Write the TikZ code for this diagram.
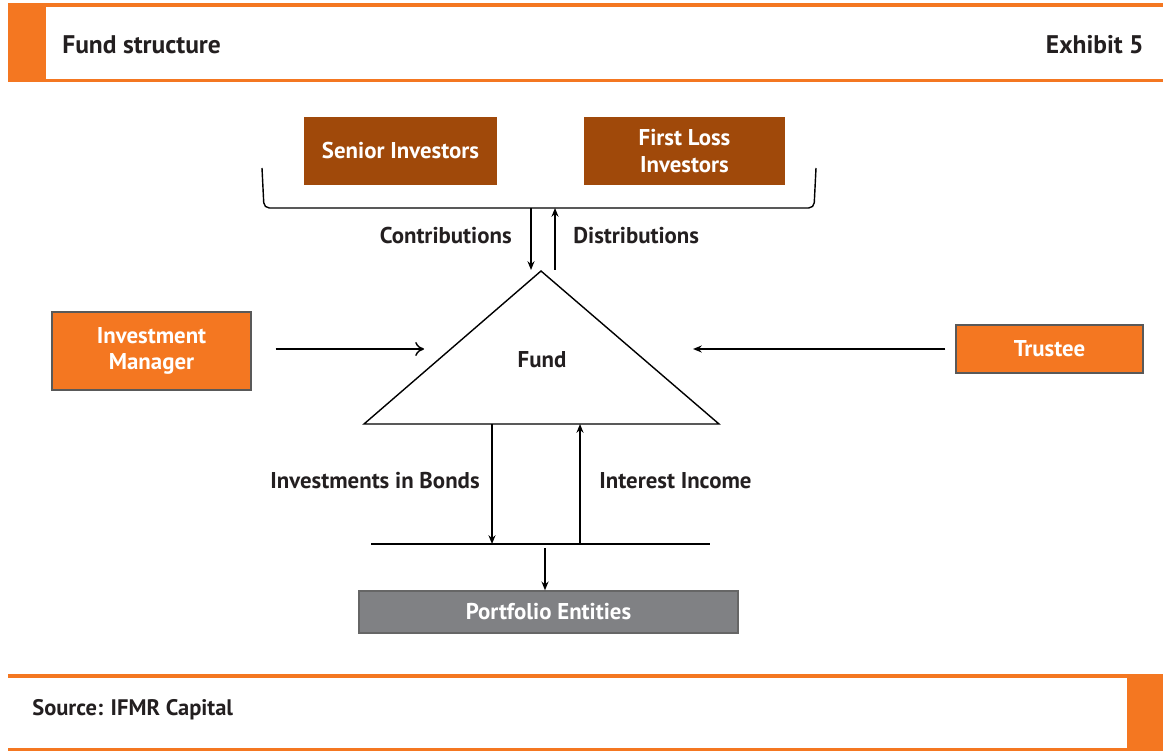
\documentclass[tikz,border=0pt]{standalone}
\usepackage{fontspec}
\setmainfont{PT Sans}
\usetikzlibrary{arrows.meta,positioning}
\definecolor{exorange}{HTML}{F47721}
\definecolor{exbrown}{HTML}{A0490A}
\definecolor{exgrey}{HTML}{808184}
\definecolor{extext}{HTML}{231F20}

\tikzset{
  boxfont/.style={font=\bfseries\fontsize{13}{15}\selectfont},
  brownbox/.style={boxfont, fill=exbrown, text=white, align=center, inner sep=0pt},
  orangebox/.style={boxfont, fill=exorange, draw=black!65, thick, text=white, align=center, inner sep=0pt},
  greybox/.style={boxfont, fill=exgrey, draw=black!60, thick, text=white, inner sep=0pt},
  lbl/.style={boxfont, text=extext, inner sep=0pt},
  flow/.style={thick, -{Stealth[length=5pt,width=4pt]}},
  rule/.style={exorange, line width=1.8pt}
}

\begin{document}
\begin{tikzpicture}[x=0.02cm, y=-0.02cm]
\useasboundingbox (0,0) rectangle (1163,753);

% header band
\draw [rule] (8,5) -- (1163,5);
\draw [rule] (8,80.5) -- (1163,80.5);
\fill [exorange] (8,4) rectangle (46,81.5);
\node [lbl, anchor=west, font=\bfseries\fontsize{14.5}{17}\selectfont] (title) at (62,45) {Fund structure};
\node [lbl, anchor=east, font=\bfseries\fontsize{14.5}{17}\selectfont] (exhibit) at (1144,45) {Exhibit 5};

% investors
\node [brownbox, minimum width=3.86cm, minimum height=1.36cm] (senior) at (400.5,151) {Senior Investors};
\node [brownbox, minimum width=4.02cm, minimum height=1.36cm] (firstloss) at (684.5,151) {First Loss\\Investors};
\draw [thick, rounded corners=3pt] (262,168) -- (264,208) -- (814,208) -- (816,168);
\coordinate (contribtop) at (531,208);
\coordinate (distribtop) at (555,208);

% fund
\coordinate (apex) at (541,271);
\coordinate (baseL) at (364,424);
\coordinate (baseR) at (719,424);
\draw [thick] (apex) -- (baseL) -- (baseR) -- cycle;
\node [lbl] (fund) at (542,360) {Fund};
\coordinate (contribend) at (531,270);
\coordinate (distribend) at (555,270);
\draw [flow] (contribtop) -- (contribend);
\draw [flow] (distribend) -- (distribtop);
\node [lbl, anchor=east] (contrib) at (512,236) {Contributions};
\node [lbl, anchor=west] (distrib) at (573,236) {Distributions};

% manager and trustee
\node [orangebox, minimum width=3.98cm, minimum height=1.56cm] (manager) at (151.5,351) {Investment\\Manager};
\node [orangebox, minimum width=3.74cm, minimum height=0.96cm] (trustee) at (1049.5,349) {Trustee};
\coordinate (mgrin) at (424,349);
\coordinate (trustin) at (693,349);
\draw [thick, -{To[length=5pt,width=8pt]}] ([xshift=0.48cm]manager.east |- mgrin) -- (mgrin);
\draw [flow] ([xshift=-0.2cm]trustee.west |- trustin) -- (trustin);

% portfolio
\coordinate (bondtop) at (492,424);
\coordinate (bondend) at (492,544);
\coordinate (inctop) at (580,424);
\coordinate (incbase) at (580,543);
\coordinate (barL) at (371,544);
\coordinate (barR) at (710,544);
\draw [thick] (barL) -- (barR);
\draw [flow] (bondtop) -- (bondend);
\draw [flow] (incbase) -- (inctop);
\node [lbl, anchor=east] (bonds) at (480,481) {Investments in Bonds};
\node [lbl, anchor=west] (income) at (599,481) {Interest Income};
\node [greybox, minimum width=7.58cm, minimum height=0.84cm] (portfolio) at (548.5,612) {Portfolio Entities};
\coordinate (bartap) at (545,548);
\draw [flow] (bartap) -- (bartap |- portfolio.north);

% footer band
\draw [rule] (8,676) -- (1163,676);
\draw [rule] (8,749.5) -- (1163,749.5);
\fill [exorange] (1127,676) rectangle (1163,749.5);
\node [lbl, anchor=west, font=\bfseries\fontsize{12.8}{15}\selectfont] (source) at (32,710) {Source: IFMR Capital};
\end{tikzpicture}
\end{document}
